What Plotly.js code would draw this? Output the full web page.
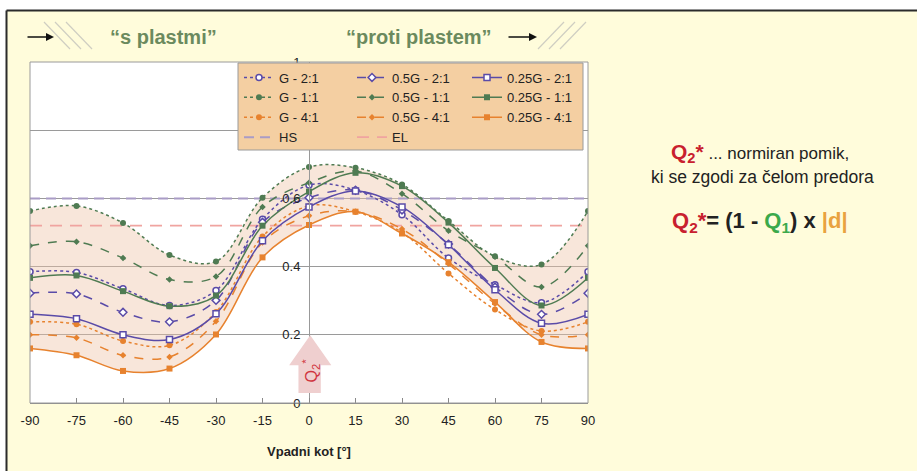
<!DOCTYPE html>
<html>
<head>
<meta charset="utf-8">
<script src="https://cdn.plot.ly/plotly-3.0.1.min.js"></script>
<style>
  html, body { margin: 0; padding: 0; background: #ffffff; }
  #chart { width: 917px; height: 471px; }
</style>
</head>
<body>
<div id="chart"></div>
<script>
// Incidence angle (x axis), degrees
const angles = [-90, -75, -60, -45, -30, -15, 0, 15, 30, 45, 60, 75, 90];

// Normalised displacement Q2* for each stiffness / K0 combination
const g_2_1   = [0.385, 0.383, 0.335, 0.286, 0.330, 0.539, 0.639, 0.624, 0.552, 0.425, 0.347, 0.294, 0.385];
const g_1_1   = [0.563, 0.578, 0.528, 0.434, 0.415, 0.602, 0.692, 0.690, 0.641, 0.534, 0.430, 0.406, 0.563];
const g_4_1   = [0.238, 0.231, 0.182, 0.169, 0.267, 0.488, 0.578, 0.561, 0.500, 0.380, 0.274, 0.211, 0.238];
const h_2_1   = [0.322, 0.320, 0.266, 0.238, 0.301, 0.530, 0.602, 0.624, 0.566, 0.466, 0.340, 0.260, 0.322];
const h_1_1   = [0.461, 0.473, 0.425, 0.362, 0.371, 0.575, 0.646, 0.680, 0.614, 0.505, 0.429, 0.340, 0.461];
const h_4_1   = [0.200, 0.191, 0.140, 0.135, 0.240, 0.471, 0.549, 0.561, 0.510, 0.408, 0.291, 0.200, 0.200];
const q_2_1   = [0.260, 0.247, 0.200, 0.186, 0.262, 0.476, 0.575, 0.622, 0.575, 0.464, 0.332, 0.234, 0.260];
const q_1_1   = [0.367, 0.374, 0.328, 0.284, 0.315, 0.520, 0.620, 0.675, 0.636, 0.529, 0.396, 0.286, 0.367];
const q_4_1   = [0.160, 0.140, 0.094, 0.101, 0.201, 0.427, 0.522, 0.561, 0.497, 0.413, 0.296, 0.179, 0.160];

// Reference levels
const hsLevel = 0.6;
const elLevel = 0.52;

const yTicks = [0, 0.2, 0.4, 0.6, 0.8, 1];
const xTicks = [-90, -75, -60, -45, -30, -15, 0, 15, 30, 45, 60, 75, 90];

// --- page geometry helpers (pixel -> paper) ---
const W = 917, H = 471;
const M = { l: 30, r: 329, t: 62, b: 68 };
const PW = W - M.l - M.r, PH = H - M.t - M.b;
const px = v => (v - M.l) / PW;
const py = v => (H - M.b - v) / PH;

const PURPLE = '#5A4BA8', GREEN = '#4F7B52', ORANGE = '#E7822E';
const FONT = 'Liberation Sans, Arial, Helvetica, sans-serif';

function series(name, y, color, dash, symbol, size, open, legend) {
  return {
    type: 'scatter', mode: 'lines+markers', name: name, x: angles, y: y,
    legend: legend,
    line: { color: color, width: 1.5, dash: dash, shape: 'spline' },
    marker: {
      symbol: symbol, size: size,
      color: open ? '#ffffff' : color,
      line: { color: color, width: open ? 1.5 : 0 }
    },
    hoverinfo: 'x+y+name'
  };
}

const traces = [
  // envelope band between the highest and lowest curves
  { type: 'scatter', mode: 'lines', x: angles, y: g_1_1, showlegend: false, hoverinfo: 'skip',
    line: { width: 0, shape: 'spline' } },
  { type: 'scatter', mode: 'lines', x: angles, y: q_4_1, showlegend: false, hoverinfo: 'skip',
    line: { width: 0, shape: 'spline' }, fill: 'tonexty', fillcolor: 'rgba(238,196,168,0.42)' },

  // reference levels
  { type: 'scatter', mode: 'lines', name: 'HS', x: [angles[0], angles[angles.length - 1]], y: [hsLevel, hsLevel],
    legend: 'legend', line: { color: '#A99CC6', width: 2, dash: '10px,6px' } },
  { type: 'scatter', mode: 'lines', name: 'EL', x: [angles[0], angles[angles.length - 1]], y: [elLevel, elLevel],
    legend: 'legend2', line: { color: '#F0A4A0', width: 1.8, dash: '12px,8px' } },

  series('G - 2:1',     g_2_1, PURPLE, 'dot',   'circle',  6, true,  'legend'),
  series('G - 1:1',     g_1_1, GREEN,  'dot',   'circle',  6, false, 'legend'),
  series('G - 4:1',     g_4_1, ORANGE, 'dot',   'circle',  6, false, 'legend'),
  series('0.5G - 2:1',  h_2_1, PURPLE, 'dash',  'diamond', 6, true,  'legend2'),
  series('0.5G - 1:1',  h_1_1, GREEN,  'dash',  'diamond', 5, false, 'legend2'),
  series('0.5G - 4:1',  h_4_1, ORANGE, 'dash',  'diamond', 5, false, 'legend2'),
  series('0.25G - 2:1', q_2_1, PURPLE, 'solid', 'square',  6, true,  'legend3'),
  series('0.25G - 1:1', q_1_1, GREEN,  'solid', 'square',  6, false, 'legend3'),
  series('0.25G - 4:1', q_4_1, ORANGE, 'solid', 'square',  6, false, 'legend3')
];

// legend entries: one column per stiffness; HS/EL sit at the bottom of columns 1 and 2
const legendOrder = ['G - 2:1', 'G - 1:1', 'G - 4:1', 'HS', '0.5G - 2:1', '0.5G - 1:1', '0.5G - 4:1', 'EL',
                     '0.25G - 2:1', '0.25G - 1:1', '0.25G - 4:1'];
traces.forEach(t => { if (t.name) t.legendrank = legendOrder.indexOf(t.name) + 1; });

function legendBox(xPix) {
  return {
    x: px(xPix), y: py(62.5), xanchor: 'left', yanchor: 'top',
    bgcolor: 'rgba(0,0,0,0)', borderwidth: 0,
    font: { family: FONT, size: 13, color: '#222' },
    itemwidth: 30, tracegroupgap: 0, traceorder: 'normal'
  };
}

const hatchColor = '#CFCEC2';
const shapes = [
  // white margin strip and dark frame edge of the panel
  { type: 'rect', xref: 'paper', yref: 'paper', x0: px(0), x1: px(W), y0: py(10.5), y1: py(0),
    fillcolor: '#ffffff', line: { width: 0 }, layer: 'above' },
  { type: 'rect', xref: 'paper', yref: 'paper', x0: px(0), x1: px(6), y0: py(H), y1: py(0),
    fillcolor: '#ffffff', line: { width: 0 }, layer: 'above' },
  { type: 'line', xref: 'paper', yref: 'paper', x0: px(6.5), x1: px(W), y0: py(10.5), y1: py(10.5),
    line: { color: '#2b2b2b', width: 2 }, layer: 'above' },
  { type: 'line', xref: 'paper', yref: 'paper', x0: px(6.5), x1: px(6.5), y0: py(10.5), y1: py(H),
    line: { color: '#2b2b2b', width: 2 }, layer: 'above' },

  // plot frame
  { type: 'rect', xref: 'paper', yref: 'paper', x0: 0, x1: 1, y0: 0, y1: 1,
    line: { color: '#9a9a9a', width: 1 }, fillcolor: 'rgba(0,0,0,0)', layer: 'above' },

  // legend panel
  { type: 'rect', xref: 'paper', yref: 'paper', x0: px(238), x1: px(583), y0: py(150), y1: py(63),
    fillcolor: '#F4CFA2', line: { color: '#9a9a9a', width: 1 }, layer: 'above' },

  // Q2* block arrow at the tunnel face
  { type: 'path', xref: 'x', yref: 'y', layer: 'above',
    path: 'M -3.4,0.029 L 3.8,0.029 L 3.8,0.111 L 7.2,0.111 L 0.4,0.199 L -6.4,0.111 L -3.4,0.111 Z',
    fillcolor: '#EFCFCF', line: { width: 0 } }
];

// diagonal hatching next to the direction arrows
for (let i = 0; i < 3; i++) {
  shapes.push({ type: 'line', xref: 'paper', yref: 'paper',
    x0: px(44 + 11 * i), y0: py(22), x1: px(70 + 11 * i), y1: py(49),
    line: { color: hatchColor, width: 1.2 }, layer: 'above' });
  shapes.push({ type: 'line', xref: 'paper', yref: 'paper',
    x0: px(538 + 11 * i), y0: py(49), x1: px(564 + 11 * i), y1: py(22),
    line: { color: hatchColor, width: 1.2 }, layer: 'above' });
}

function label(xPix, yPix, text, font) {
  return { xref: 'paper', yref: 'paper', x: px(xPix), y: py(yPix), xanchor: 'center', yanchor: 'middle',
    showarrow: false, text: text, font: font };
}

const annotations = [
  { xref: 'paper', yref: 'paper', x: px(54), y: py(37), ax: -28, ay: 0, text: '',
    showarrow: true, arrowhead: 2, arrowsize: 1, arrowwidth: 1.6, arrowcolor: '#111' },
  { xref: 'paper', yref: 'paper', x: px(537), y: py(37), ax: -30, ay: 0, text: '',
    showarrow: true, arrowhead: 2, arrowsize: 1, arrowwidth: 1.6, arrowcolor: '#111' },
  label(163, 37, '<b>\u201Cs plastmi\u201D</b>', { family: FONT, size: 20, color: '#6B8A5E' }),
  label(419, 37, '<b>\u201Cproti plastem\u201D</b>', { family: FONT, size: 20, color: '#6B8A5E' }),

  label(760, 153, "<b><span style='color:#C8202E;font-size:21px'>Q<sub>2</sub>*</span></b> ... normiran pomik,",
    { family: FONT, size: 17, color: '#222' }),
  label(762, 177, 'ki se zgodi za čelom predora', { family: FONT, size: 17.5, color: '#222' }),
  label(760, 222,
    "<b><span style='color:#C8202E'>Q<sub>2</sub>*</span>= (1 - <span style='color:#3BA94B'>Q<sub>1</sub></span>) x <span style='color:#E9A23F'>|d|</span></b>",
    { family: FONT, size: 22, color: '#222' }),

  { xref: 'x', yref: 'y', x: 0.6, y: 0.095, xanchor: 'center', yanchor: 'middle', showarrow: false, textangle: -90,
    text: 'Q<sub>2</sub><sup>*</sup>', font: { family: FONT, size: 16, color: '#D0343E' } }
];

const layout = {
  width: W, height: H,
  margin: M,
  paper_bgcolor: '#FFFCDB',
  plot_bgcolor: '#ffffff',
  font: { family: FONT, size: 13, color: '#222' },
  showlegend: true,
  legend: legendBox(239),
  legend2: legendBox(352),
  legend3: legendBox(467),
  xaxis: {
    range: [-90, 90], tickvals: xTicks, ticktext: xTicks.map(String),
    showgrid: false, zeroline: false, showline: true, linecolor: '#888', linewidth: 1,
    ticks: 'inside', ticklen: 5, tickcolor: '#888',
    tickfont: { family: FONT, size: 13, color: '#222' }, ticklabelstandoff: 5,
    title: { text: '<b>Vpadni kot [°]</b>', font: { family: FONT, size: 13, color: '#222' }, standoff: 20 },
    anchor: 'y', fixedrange: true
  },
  yaxis: {
    range: [0, 1], tickvals: yTicks, ticktext: yTicks.map(String),
    anchor: 'free', position: 0.5,
    showgrid: true, gridcolor: '#9a9a9a', gridwidth: 1,
    zeroline: false, showline: true, linecolor: '#999', linewidth: 1,
    ticks: '', tickfont: { family: FONT, size: 13, color: '#222' }, ticklabelstandoff: 6,
    fixedrange: true
  },
  shapes: shapes,
  annotations: annotations
};

Plotly.newPlot('chart', traces, layout, { displayModeBar: false, staticPlot: true });
</script>
</body>
</html>
